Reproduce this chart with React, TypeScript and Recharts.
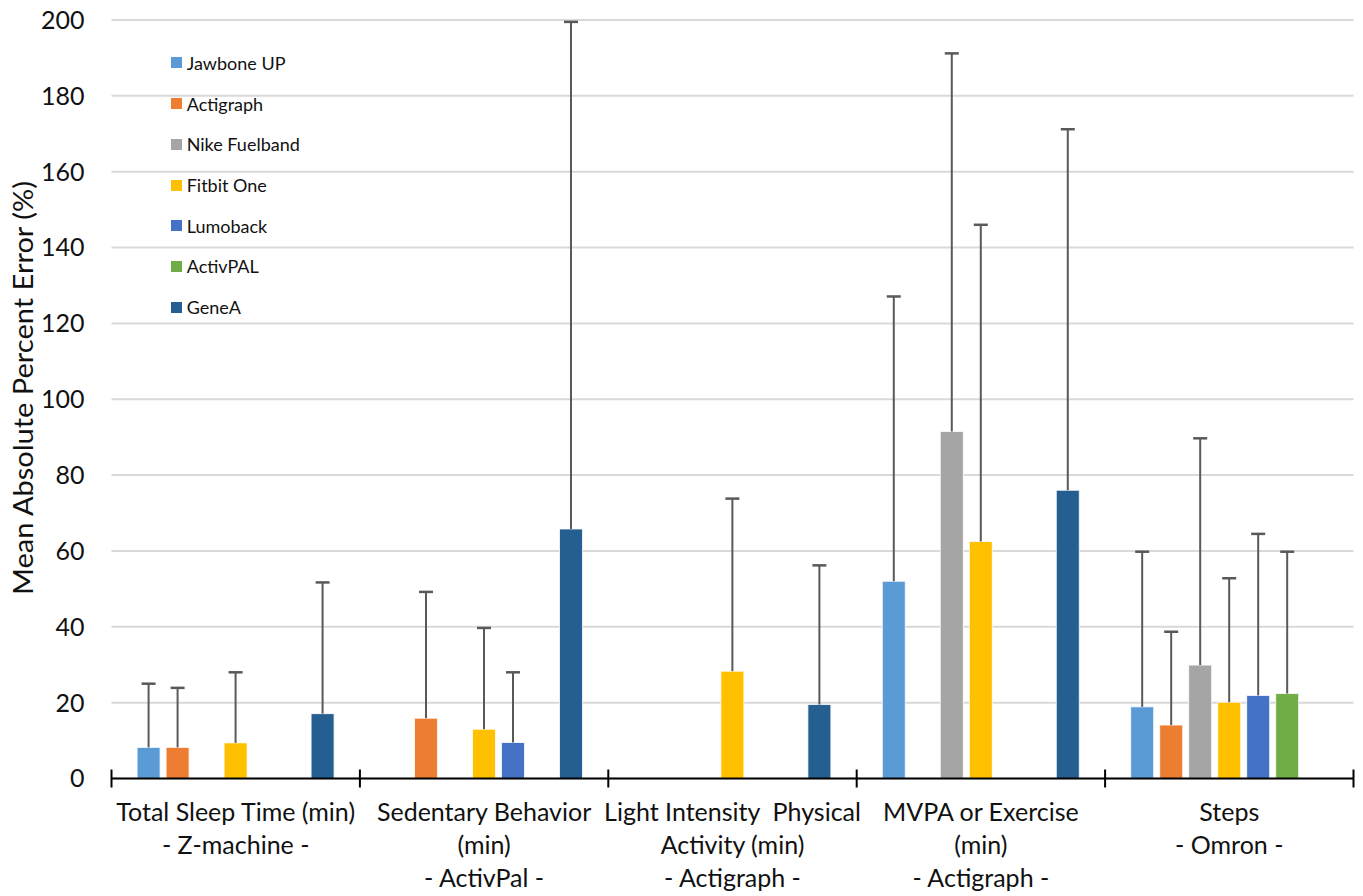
import React from "react";
import { ComposedChart, Bar, XAxis, YAxis, CartesianGrid, Legend } from "recharts";

const CATEGORIES = [
  "Total Sleep Time (min)\n- Z-machine -",
  "Sedentary Behavior\n(min)\n- ActivPal -",
  "Light Intensity  Physical\nActivity (min)\n- Actigraph -",
  "MVPA or Exercise\n(min)\n- Actigraph -",
  "Steps\n- Omron -",
];

const Y_TICKS = [0, 20, 40, 60, 80, 100, 120, 140, 160, 180, 200];

// mean absolute percent error (bar heights)
const jawbone = [8.2, null, null, 52.0, 18.9];
const actigraph = [8.2, 15.9, null, null, 14.1];
const nike = [null, null, null, 91.5, 29.9];
const fitbit = [9.4, 13.0, 28.3, 62.5, 20.1];
const lumoback = [null, 9.5, null, null, 21.9];
const activpal = [null, null, null, null, 22.4];
const genea = [17.1, 65.8, 19.5, 76.0, null];

// upper end of the error bars
const jawboneTop = [25.0, null, null, 127.1, 59.8];
const actigraphTop = [23.9, 49.2, null, null, 38.7];
const nikeTop = [null, null, null, 191.2, 89.7];
const fitbitTop = [28.0, 39.7, 73.8, 146.0, 52.8];
const lumobackTop = [null, 28.0, null, null, 64.5];
const activpalTop = [null, null, null, null, 59.8];
const geneaTop = [51.7, 199.5, 56.2, 171.2, null];

const SERIES = [
  { key: "jawbone", name: "Jawbone UP", color: "#5B9BD5", values: jawbone, tops: jawboneTop },
  { key: "actigraph", name: "Actigraph", color: "#ED7D31", values: actigraph, tops: actigraphTop },
  { key: "nike", name: "Nike Fuelband", color: "#A5A5A5", values: nike, tops: nikeTop },
  { key: "fitbit", name: "Fitbit One", color: "#FFC000", values: fitbit, tops: fitbitTop },
  { key: "lumoback", name: "Lumoback", color: "#4472C4", values: lumoback, tops: lumobackTop },
  { key: "activpal", name: "ActivPAL", color: "#70AD47", values: activpal, tops: activpalTop },
  { key: "genea", name: "GeneA", color: "#255E91", values: genea, tops: geneaTop },
];

const data = CATEGORIES.map((cat, i) => {
  const row: any = { cat };
  SERIES.forEach((s) => {
    const v = s.values[i];
    const t = s.tops[i];
    row[s.key] = v;
    row[s.key + "_err"] = v != null && t != null ? t - v : null;
  });
  return row;
});

const FONT = "Lato, 'Open Sans', sans-serif";

const ErrShape = (props: any) => {
  const { x, y, width, height } = props;
  if (!isFinite(x) || !isFinite(y) || !isFinite(height) || !(height > 0)) return null;
  const cx = x + width / 2;
  return (
    <g>
      <line x1={cx} x2={cx} y1={y + height} y2={y} stroke="#595959" strokeWidth={2} />
      <line x1={cx - 7} x2={cx + 7} y1={y} y2={y} stroke="#595959" strokeWidth={2.5} />
    </g>
  );
};

const XTick = (props: any) => {
  const { x, y, payload, index } = props;
  const half = payload && payload.offset ? payload.offset : 124.2;
  const lines = String(payload.value).split("\n");
  const idx = index != null ? index : payload.index;
  return (
    <g>
      <line x1={x - half} x2={x - half} y1={y - 9} y2={y + 9} stroke="#000" strokeWidth={2} />
      {idx === CATEGORIES.length - 1 && (
        <line x1={x + half} x2={x + half} y1={y - 9} y2={y + 9} stroke="#000" strokeWidth={2} />
      )}
      <text textAnchor="middle" fontFamily={FONT} fontSize={25} fill="#111">
        {lines.map((l, i) => (
          <tspan key={i} x={x} y={y + 42 + i * 33} style={{ whiteSpace: "pre" }}>
            {l}
          </tspan>
        ))}
      </text>
    </g>
  );
};

const YLabel = (props: any) => {
  const vb = props.viewBox || { x: 0, y: 20, width: 111.5, height: 758.5 };
  const cx = vb.x + 23;
  const cy = 388;
  return (
    <text
      x={cx}
      y={cy}
      transform={`rotate(-90 ${cx} ${cy})`}
      textAnchor="middle"
      dominantBaseline="central"
      fontFamily={FONT}
      fontSize={26}
      fill="#111"
      textLength={414}
      lengthAdjust="spacingAndGlyphs"
    >
      Mean Absolute Percent Error (%)
    </text>
  );
};

const LegendContent = () => (
  <div style={{ fontFamily: FONT, fontSize: 18, color: "#111" }}>
    {SERIES.map((s) => (
      <div key={s.key} style={{ display: "flex", alignItems: "center", height: 40.7 }}>
        <span style={{ display: "inline-block", width: 11, height: 11, background: s.color, marginRight: 5 }} />
        <span>{s.name}</span>
      </div>
    ))}
  </div>
);

export default function App() {
  return (
    <div style={{ position: "absolute", left: 0, top: 0, width: 1363, height: 896 }}>
      <ComposedChart
        width={1363}
        height={896}
        data={data}
        margin={{ top: 20, right: 9.5, bottom: 0, left: 0 }}
        barGap={6}
        barCategoryGap="10.3%"
      >
        <CartesianGrid vertical={false} stroke="#d9d9d9" strokeWidth={2} />
        <YAxis
          type="number"
          domain={[0, 200]}
          ticks={Y_TICKS}
          width={111.5}
          axisLine={false}
          tickLine={false}
          tickSize={0}
          tickMargin={27}
          tick={{ fontFamily: FONT, fontSize: 25, fill: "#111" }}
          label={YLabel}
        />
        <XAxis
          dataKey="cat"
          type="category"
          height={117.5}
          interval={0}
          axisLine={{ stroke: "#000", strokeWidth: 2 }}
          tickLine={false}
          tickSize={0}
          tickMargin={0}
          tick={<XTick />}
        />
        <Legend
          layout="vertical"
          align="center"
          verticalAlign="middle"
          wrapperStyle={{ left: 170.7, top: 42.6, width: 180, height: 290 }}
          content={<LegendContent />}
        />
        {SERIES.map((s) => [
          <Bar
            key={s.key}
            dataKey={s.key}
            name={s.name}
            stackId={s.key}
            fill={s.color}
            stroke="#ffffff"
            strokeWidth={0.8}
            isAnimationActive={false}
          />,
          <Bar
            key={s.key + "_err"}
            dataKey={s.key + "_err"}
            stackId={s.key}
            fill="none"
            legendType="none"
            shape={<ErrShape />}
            isAnimationActive={false}
          />,
        ])}
      </ComposedChart>
    </div>
  );
}
